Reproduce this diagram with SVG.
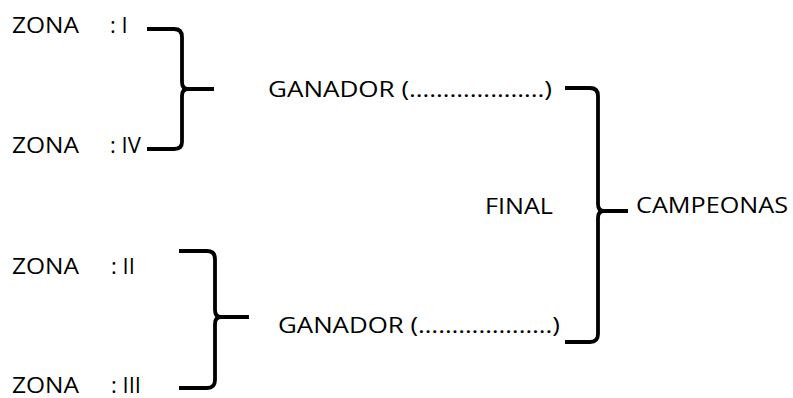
<svg xmlns="http://www.w3.org/2000/svg" width="793" height="398" viewBox="0 0 793 398">
<style>
text { font-family: "Open Sans", "Liberation Sans", sans-serif; font-size: 22px; fill: #000; }
.brace { fill: none; stroke: #000; stroke-width: 3.8; stroke-linecap: butt; stroke-linejoin: round; }
</style>
<rect width="793" height="398" fill="#fff"/>
<g id="zona-i"><text x="12" y="33"><tspan textLength="67" lengthAdjust="spacingAndGlyphs">ZONA</tspan><tspan x="110">: I</tspan></text></g>
<g id="zona-iv"><text x="12" y="153"><tspan textLength="67" lengthAdjust="spacingAndGlyphs">ZONA</tspan><tspan x="110">: IV</tspan></text></g>
<g id="zona-ii"><text x="12" y="274"><tspan textLength="67" lengthAdjust="spacingAndGlyphs">ZONA</tspan><tspan x="111">: II</tspan></text></g>
<g id="zona-iii"><text x="12" y="393"><tspan textLength="67" lengthAdjust="spacingAndGlyphs">ZONA</tspan><tspan x="111">: III</tspan></text></g>
<g id="ganador-1"><text x="268" y="97" textLength="284" lengthAdjust="spacingAndGlyphs">GANADOR (………………..)</text></g>
<g id="ganador-2"><text x="278" y="333" textLength="282" lengthAdjust="spacingAndGlyphs">GANADOR (………………..)</text></g>
<g id="final"><text x="485" y="214" textLength="68" lengthAdjust="spacingAndGlyphs">FINAL</text></g>
<g id="campeonas"><text x="636" y="213" textLength="152" lengthAdjust="spacingAndGlyphs">CAMPEONAS</text></g>
<g id="connectors">
<path class="brace" d="M147,29 L174,29 Q182,29 182,37 L182,82 Q182,89 188,89 L214,89 M188,89 Q182,89 182,96 L182,142 Q182,149 174,149 L147,149"/>
<path class="brace" d="M179,251 L207,251 Q215,251 215,259 L215,310 Q215,317 221,317 L249,317 M221,317 Q215,317 215,324 L215,380 Q215,388 207,388 L179,388"/>
<path class="brace" d="M565,88 L590,88 Q598,88 598,96 L598,204 Q598,211 604,211 L628,211 M604,211 Q598,211 598,218 L598,334 Q598,342 590,342 L565,342"/>
</g>
</svg>
